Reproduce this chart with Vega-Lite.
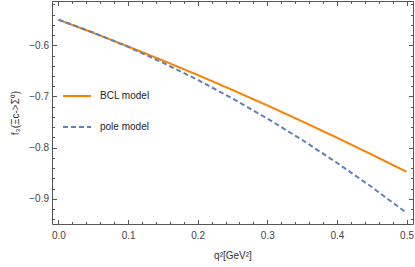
{
  "$schema": "https://vega.github.io/schema/vega-lite/v6.json",
  "width": 361,
  "height": 223,
  "autosize": {"type": "none"},
  "padding": {"left": 52, "top": 1, "right": 2, "bottom": 43},
  "background": "white",
  "config": {
    "view": {"stroke": null},
    "font": "Liberation Sans",
    "axis": {"labelFont": "Liberation Sans", "titleFont": "Liberation Sans", "labelFontSize": 10, "titleFontSize": 10, "labelColor": "#444444", "titleColor": "#333333", "titleFontWeight": "normal", "domainColor": "#555555", "tickColor": "#555555", "grid": false}
  },
  "data": {"values": [
    {"q2": 0.00, "f": -0.5500, "model": "BCL model"},
    {"q2": 0.05, "f": -0.5757, "model": "BCL model"},
    {"q2": 0.10, "f": -0.6022, "model": "BCL model"},
    {"q2": 0.15, "f": -0.6297, "model": "BCL model"},
    {"q2": 0.20, "f": -0.6580, "model": "BCL model"},
    {"q2": 0.25, "f": -0.6873, "model": "BCL model"},
    {"q2": 0.30, "f": -0.7174, "model": "BCL model"},
    {"q2": 0.35, "f": -0.7485, "model": "BCL model"},
    {"q2": 0.40, "f": -0.7804, "model": "BCL model"},
    {"q2": 0.45, "f": -0.8133, "model": "BCL model"},
    {"q2": 0.50, "f": -0.8470, "model": "BCL model"},
    {"q2": 0.00, "f": -0.5500, "model": "pole model"},
    {"q2": 0.05, "f": -0.5752, "model": "pole model"},
    {"q2": 0.10, "f": -0.6032, "model": "pole model"},
    {"q2": 0.15, "f": -0.6340, "model": "pole model"},
    {"q2": 0.20, "f": -0.6675, "model": "pole model"},
    {"q2": 0.25, "f": -0.7038, "model": "pole model"},
    {"q2": 0.30, "f": -0.7429, "model": "pole model"},
    {"q2": 0.35, "f": -0.7848, "model": "pole model"},
    {"q2": 0.40, "f": -0.8294, "model": "pole model"},
    {"q2": 0.45, "f": -0.8768, "model": "pole model"},
    {"q2": 0.50, "f": -0.9271, "model": "pole model"}
  ]},
  "resolve": {"axis": {"x": "independent", "y": "independent"}},
  "layer": [
    {
      "mark": {"type": "line", "strokeOpacity": 0},
      "encoding": {
        "x": {"field": "q2", "type": "quantitative", "scale": {"domain": [-0.0093, 0.5093], "nice": false, "zero": false},
          "axis": {"orient": "top", "values": [0, 0.02, 0.04, 0.06, 0.08, 0.1, 0.12, 0.14, 0.16, 0.18, 0.2, 0.22, 0.24, 0.26, 0.28, 0.3, 0.32, 0.34, 0.36, 0.38, 0.4, 0.42, 0.44, 0.46, 0.48, 0.5], "labels": false, "tickSize": -2.5, "title": null, "domain": false}},
        "y": {"field": "f", "type": "quantitative", "scale": {"domain": [-0.949, -0.5135], "nice": false, "zero": false},
          "axis": {"orient": "right", "values": [-0.94, -0.92, -0.9, -0.88, -0.86, -0.84, -0.82, -0.8, -0.78, -0.76, -0.74, -0.72, -0.7, -0.68, -0.66, -0.64, -0.62, -0.6, -0.58, -0.56, -0.54, -0.52], "labels": false, "tickSize": -2.5, "title": null, "domain": false}}
      }
    },
    {
      "mark": {"type": "line", "strokeOpacity": 0},
      "encoding": {
        "x": {"field": "q2", "type": "quantitative",
          "axis": {"orient": "bottom", "values": [0, 0.02, 0.04, 0.06, 0.08, 0.1, 0.12, 0.14, 0.16, 0.18, 0.2, 0.22, 0.24, 0.26, 0.28, 0.3, 0.32, 0.34, 0.36, 0.38, 0.4, 0.42, 0.44, 0.46, 0.48, 0.5], "labels": false, "tickSize": -2.5, "title": null, "domain": false}},
        "y": {"field": "f", "type": "quantitative",
          "axis": {"orient": "left", "values": [-0.94, -0.92, -0.9, -0.88, -0.86, -0.84, -0.82, -0.8, -0.78, -0.76, -0.74, -0.72, -0.7, -0.68, -0.66, -0.64, -0.62, -0.6, -0.58, -0.56, -0.54, -0.52], "labels": false, "tickSize": -2.5, "title": null, "domain": false}}
      }
    },
    {
      "mark": {"type": "line", "strokeOpacity": 0},
      "encoding": {
        "x": {"field": "q2", "type": "quantitative",
          "axis": {"orient": "top", "values": [0, 0.1, 0.2, 0.3, 0.4, 0.5], "labels": false, "tickSize": -4.5, "title": null, "domainColor": "#555555"}},
        "y": {"field": "f", "type": "quantitative",
          "axis": {"orient": "right", "values": [-0.9, -0.8, -0.7, -0.6], "labels": false, "tickSize": -4.5, "title": null, "domainColor": "#555555"}}
      }
    },
    {
      "mark": {"type": "line", "strokeWidth": 2, "clip": true},
      "encoding": {
        "x": {"field": "q2", "type": "quantitative",
          "axis": {"orient": "bottom", "values": [0, 0.1, 0.2, 0.3, 0.4, 0.5], "format": ".1f", "tickSize": -4.5, "labelPadding": 11, "title": "q²[GeV²]", "titlePadding": 10}},
        "y": {"field": "f", "type": "quantitative",
          "axis": {"orient": "left", "values": [-0.9, -0.8, -0.7, -0.6], "format": ".1f", "tickSize": -4.5, "labelPadding": 8, "title": "f₃(Ξc->Σ⁰)", "titlePadding": 8}},
        "color": {"field": "model", "type": "nominal", "scale": {"domain": ["BCL model", "pole model"], "range": ["#FF8000", "#5E81B5"]},
          "legend": {"orient": "none", "legendX": 10, "legendY": 80, "title": null, "symbolType": "stroke", "symbolSize": 784, "symbolStrokeWidth": 2, "labelFont": "Liberation Sans", "labelFontSize": 10, "labelColor": "#222222", "rowPadding": 11, "labelOffset": 8}},
        "strokeDash": {"field": "model", "type": "nominal", "scale": {"domain": ["BCL model", "pole model"], "range": [[1, 0], [5, 3]]}, "legend": null}
      }
    }
  ]
}
